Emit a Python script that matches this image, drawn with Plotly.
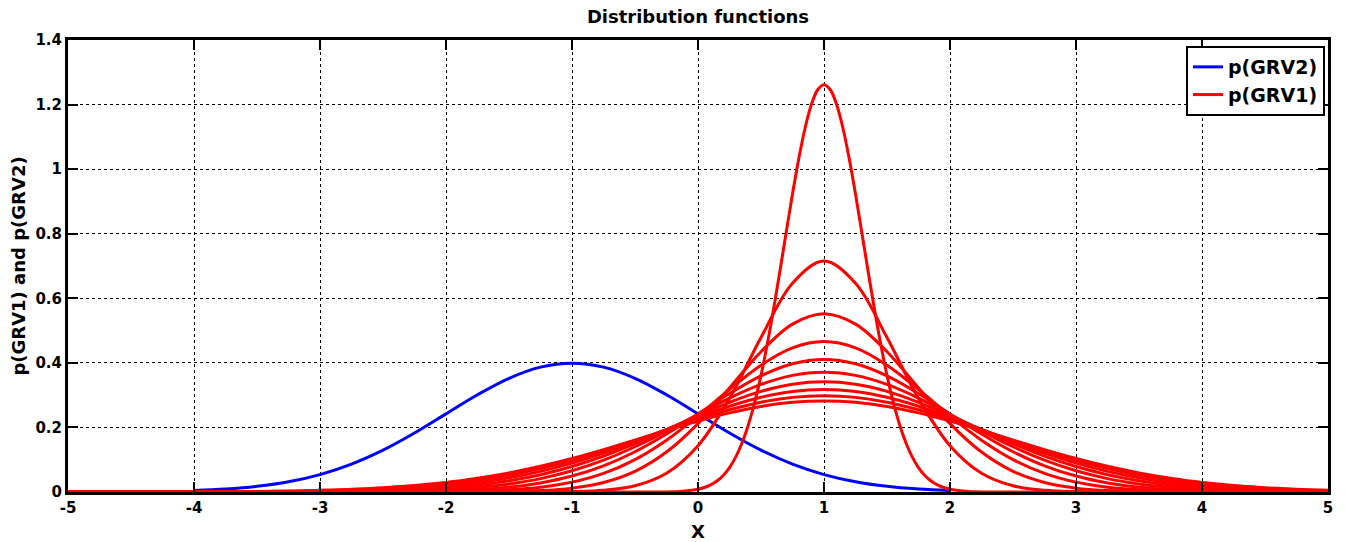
import plotly.graph_objects as go

FONT = "DejaVu Sans, Liberation Sans, Arial, sans-serif"

# ---- data ----
x_grv2 = [-4.0, -3.75, -3.5, -3.25, -3.0, -2.75, -2.5, -2.25, -2.0, -1.75, -1.5, -1.25,
          -1.0, -0.75, -0.5, -0.25, 0.0, 0.25, 0.5, 0.75, 1.0, 1.25, 1.5, 1.75, 2.0]
p_grv2 = [0.0044, 0.0091, 0.0175, 0.0317, 0.0540, 0.0863, 0.1295, 0.1826, 0.2420, 0.3011,
          0.3521, 0.3867, 0.3989, 0.3867, 0.3521, 0.3011, 0.2420, 0.1826, 0.1295, 0.0863,
          0.0540, 0.0317, 0.0175, 0.0091, 0.0044]

# narrowest GRV1 curve (sampled more finely)
x_grv1_narrow = [-5.0, -0.5, -0.3, -0.2, -0.15, -0.1, -0.05, 0.0, 0.05, 0.1, 0.15, 0.2, 0.25,
                 0.3, 0.35, 0.4, 0.45, 0.5, 0.55, 0.6, 0.65, 0.7, 0.75, 0.8, 0.85, 0.9, 0.95,
                 1.0, 1.05, 1.1, 1.15, 1.2, 1.25, 1.3, 1.35, 1.4, 1.45, 1.5, 1.55, 1.6, 1.65,
                 1.7, 1.75, 1.8, 1.85, 1.9, 1.95, 2.0, 2.05, 2.1, 2.15, 2.2, 2.3, 2.5, 5.0]
p_grv1_narrow = [0.0, 0.0, 0.0003, 0.0009, 0.0017, 0.0030, 0.0051, 0.0085, 0.0138, 0.0220,
                 0.0340, 0.0514, 0.0758, 0.1089, 0.1526, 0.2085, 0.2780, 0.3614, 0.4584,
                 0.5669, 0.6838, 0.8044, 0.9230, 1.0329, 1.1274, 1.2001, 1.2459, 1.2616,
                 1.2459, 1.2001, 1.1274, 1.0329, 0.9230, 0.8044, 0.6838, 0.5669, 0.4584,
                 0.3614, 0.2780, 0.2085, 0.1526, 0.1089, 0.0758, 0.0514, 0.0340, 0.0220,
                 0.0138, 0.0085, 0.0051, 0.0030, 0.0017, 0.0009, 0.0003, 0.0, 0.0]

x_grv1 = [-5.0, -4.5, -4.0, -3.5, -3.0, -2.5, -2.0, -1.75, -1.5, -1.25, -1.0, -0.75, -0.5, -0.25,
          0.0, 0.25, 0.5, 0.75, 1.0, 1.25, 1.5, 1.75, 2.0, 2.25, 2.5, 2.75, 3.0, 3.25, 3.5, 3.75,
          4.0, 4.5, 5.0]
p_grv1_a = [0, 0, 0, 0, 0, 0, 0, 0, 0, 0.0002, 0.0012, 0.0052, 0.0192, 0.0581, 0.1434, 0.2897,
            0.4786, 0.6469, 0.7153, 0.6469, 0.4786, 0.2897, 0.1434, 0.0581, 0.0192, 0.0052,
            0.0012, 0.0002, 0, 0, 0, 0, 0]
p_grv1_b = [0, 0, 0, 0, 0, 0, 0.0001, 0.0004, 0.0014, 0.0043, 0.0120, 0.0294, 0.0640, 0.1237,
            0.2119, 0.3222, 0.4346, 0.5200, 0.5521, 0.5200, 0.4346, 0.3222, 0.2119, 0.1237,
            0.0640, 0.0294, 0.0120, 0.0043, 0.0014, 0.0004, 0.0001, 0, 0]
p_grv1_c = [0, 0, 0, 0, 0, 0.0001, 0.0010, 0.0027, 0.0066, 0.0148, 0.0305, 0.0577, 0.1005, 0.1606,
            0.2356, 0.3175, 0.3929, 0.4465, 0.4659, 0.4465, 0.3929, 0.3175, 0.2356, 0.1606,
            0.1005, 0.0577, 0.0305, 0.0148, 0.0066, 0.0027, 0.0010, 0.0001, 0]
p_grv1_d = [0, 0, 0, 0, 0.0001, 0.0006, 0.0035, 0.0075, 0.0150, 0.0281, 0.0494, 0.0811, 0.1247,
            0.1795, 0.2418, 0.3048, 0.3596, 0.3971, 0.4105, 0.3971, 0.3596, 0.3048, 0.2418,
            0.1795, 0.1247, 0.0811, 0.0494, 0.0281, 0.0150, 0.0075, 0.0035, 0.0006, 0.0001]
p_grv1_e = [0, 0, 0, 0.0001, 0.0004, 0.0019, 0.0076, 0.0141, 0.0248, 0.0415, 0.0657, 0.0986, 0.1402,
            0.1887, 0.2408, 0.2909, 0.3331, 0.3612, 0.3711, 0.3612, 0.3331, 0.2909, 0.2408,
            0.1887, 0.1402, 0.0986, 0.0657, 0.0415, 0.0248, 0.0141, 0.0076, 0.0019, 0.0004]
p_grv1_f = [0, 0, 0, 0.0002, 0.0010, 0.0039, 0.0127, 0.0214, 0.0347, 0.0535, 0.0790, 0.1113, 0.1498,
            0.1927, 0.2367, 0.2778, 0.3115, 0.3336, 0.3413, 0.3336, 0.3115, 0.2778, 0.2367,
            0.1927, 0.1498, 0.1113, 0.0790, 0.0535, 0.0347, 0.0214, 0.0127, 0.0039, 0.0010]
p_grv1_g = [0, 0, 0.0001, 0.0005, 0.0020, 0.0065, 0.0183, 0.0289, 0.0438, 0.0638, 0.0894, 0.1203,
            0.1557, 0.1936, 0.2313, 0.2657, 0.2934, 0.3114, 0.3176, 0.3114, 0.2934, 0.2657,
            0.2313, 0.1936, 0.1557, 0.1203, 0.0894, 0.0638, 0.0438, 0.0289, 0.0183, 0.0065, 0.0020]
p_grv1_h = [0, 0.0001, 0.0003, 0.0010, 0.0034, 0.0097, 0.0241, 0.0360, 0.0520, 0.0725, 0.0975,
            0.1267, 0.1591, 0.1927, 0.2256, 0.2549, 0.2782, 0.2931, 0.2983, 0.2931, 0.2782,
            0.2549, 0.2256, 0.1927, 0.1591, 0.1267, 0.0975, 0.0725, 0.0520, 0.0360, 0.0241,
            0.0097, 0.0034]
p_grv1_i = [0, 0.0001, 0.0005, 0.0018, 0.0052, 0.0132, 0.0297, 0.0426, 0.0591, 0.0796, 0.1038,
            0.1312, 0.1607, 0.1909, 0.2197, 0.2451, 0.2650, 0.2777, 0.2821, 0.2777, 0.2650,
            0.2451, 0.2197, 0.1909, 0.1607, 0.1312, 0.1038, 0.0796, 0.0591, 0.0426, 0.0297,
            0.0132, 0.0052]

grv1_wide = [p_grv1_a, p_grv1_b, p_grv1_c, p_grv1_d, p_grv1_e, p_grv1_f, p_grv1_g, p_grv1_h, p_grv1_i]

x_ticks = [-5, -4, -3, -2, -1, 0, 1, 2, 3, 4, 5]
x_ticktext = ["-5", "-4", "-3", "-2", "-1", "0", "1", "2", "3", "4", "5"]
y_ticks = [0, 0.2, 0.4, 0.6, 0.8, 1.0, 1.2, 1.4]
y_ticktext = ["0", "0.2", "0.4", "0.6", "0.8", "1", "1.2", "1.4"]

BLUE = "#0000FF"
RED = "#FF0000"

fig = go.Figure()
fig.add_trace(go.Scatter(x=x_grv2, y=p_grv2, mode="lines", name="p(GRV2)",
                         line=dict(color=BLUE, width=3, shape="spline"), legendgroup="b"))
fig.add_trace(go.Scatter(x=x_grv1_narrow, y=p_grv1_narrow, mode="lines", name="p(GRV1)",
                         line=dict(color=RED, width=3, shape="spline"), legendgroup="r"))
for ys in grv1_wide:
    fig.add_trace(go.Scatter(x=x_grv1, y=ys, mode="lines", name="p(GRV1)", showlegend=False,
                             line=dict(color=RED, width=3, shape="spline"), legendgroup="r"))

axis_common = dict(
    showline=True, linecolor="black", linewidth=3, mirror="ticks",
    ticks="inside", ticklen=10, tickwidth=2, tickcolor="black",
    showgrid=True, gridcolor="black", gridwidth=1, griddash="dot",
    zeroline=False, automargin=False,
    tickfont=dict(family=FONT, size=15, color="black", weight="bold"),
)

fig.update_xaxes(range=[-5, 5], tickvals=x_ticks, ticktext=x_ticktext,
                 title=dict(text="X", font=dict(family=FONT, size=18, color="black", weight="bold"),
                            standoff=11),
                 **axis_common)
fig.update_yaxes(range=[0, 1.4], tickvals=y_ticks, ticktext=y_ticktext,
                 title=dict(text="p(GRV1) and p(GRV2)",
                            font=dict(family=FONT, size=18, color="black", weight="bold"),
                            standoff=6),
                 **axis_common)

fig.update_layout(
    width=1345, height=542,
    margin=dict(l=68, r=17, t=40, b=50),
    paper_bgcolor="white", plot_bgcolor="white",
    title=dict(text="Distribution functions", x=0.5, xref="paper", xanchor="center",
               y=1 - 17 / 542, yref="container", yanchor="middle",
               font=dict(family=FONT, size=18, color="black", weight="bold")),
    legend=dict(x=0.9976, y=0.9867, xanchor="right", yanchor="top",
                bgcolor="white", bordercolor="black", borderwidth=2,
                font=dict(family=FONT, size=19, color="black", weight="bold"),
                tracegroupgap=0),
    showlegend=True,
)

fig.write_html("out.html")
